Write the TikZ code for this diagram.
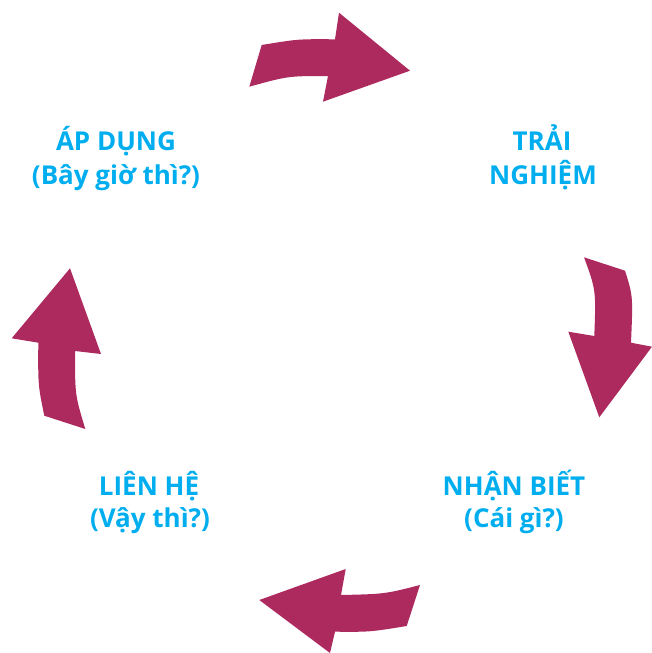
\documentclass[tikz,border=0pt]{standalone}
\usepackage{fontspec}
\setmainfont{Open Sans}
\definecolor{arrowc}{HTML}{AD2A5E}
\definecolor{textc}{HTML}{00AEEF}
\begin{document}
\begin{tikzpicture}[x=1pt,y=-1pt,
  lbl/.style={text=textc,font=\fontsize{26}{34}\selectfont\bfseries,align=center,inner sep=0pt},
  arr/.style={fill=arrowc,draw=none}]
\useasboundingbox (0,0) rectangle (652,653);
% top arrow
\path[arr] (261.7,45) .. controls (298,39) .. (335,39.3) -- (339,12.7) -- (410,70.7) -- (323,101.7) -- (328,76) .. controls (288,76) .. (249.3,86.7) -- cycle;
% right arrow
\path[arr] (584,257.3) -- (625,270.7) .. controls (633,296) .. (631,342.7) -- (652,346.7) -- (599.3,417.3) -- (568.3,331.7) -- (594.3,336) .. controls (596,290) .. cycle;
% bottom arrow
\path[arr] (420,585) -- (406.7,626) .. controls (370,632) .. (335,631.7) -- (330,653) -- (259.3,600) -- (345.7,569) -- (341,595) .. controls (385,594) .. cycle;
% left arrow
\path[arr] (44.3,415.7) -- (85.3,429) .. controls (75,395) .. (75,351) -- (101,354) -- (70,268.3) -- (11.7,338.3) -- (38.3,342.7) .. controls (38,385) .. cycle;
% labels
\node[lbl,anchor=base] (ap1) at (116,150) {ÁP DỤNG};
\node[lbl,anchor=base] (ap2) at (116,184) {(Bây giờ thì?)};
\node[lbl,anchor=base] (tr1) at (542,150) {TRẢI};
\node[lbl,anchor=base] (tr2) at (543,184) {NGHIỆM};
\node[lbl,anchor=base] (nb1) at (514,495) {NHẬN BIẾT};
\node[lbl,anchor=base] (nb2) at (514,527) {(Cái gì?)};
\node[lbl,anchor=base] (lh1) at (149,495) {LIÊN HỆ};
\node[lbl,anchor=base] (lh2) at (150,527) {(Vậy thì?)};
\end{tikzpicture}
\end{document}
